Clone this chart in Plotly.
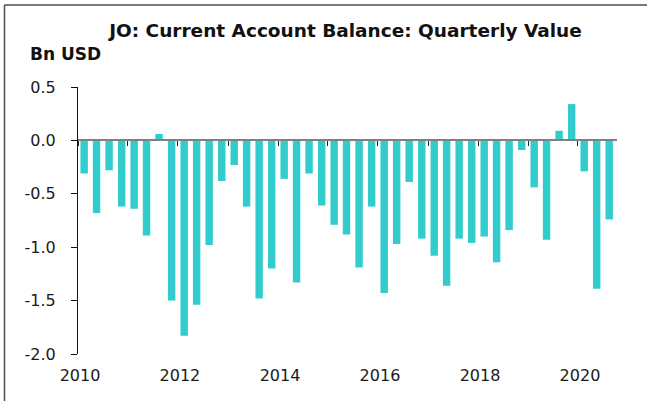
import plotly.graph_objects as go

quarters = [
    "2010-01-01", "2010-04-01", "2010-07-01", "2010-10-01",
    "2011-01-01", "2011-04-01", "2011-07-01", "2011-10-01",
    "2012-01-01", "2012-04-01", "2012-07-01", "2012-10-01",
    "2013-01-01", "2013-04-01", "2013-07-01", "2013-10-01",
    "2014-01-01", "2014-04-01", "2014-07-01", "2014-10-01",
    "2015-01-01", "2015-04-01", "2015-07-01", "2015-10-01",
    "2016-01-01", "2016-04-01", "2016-07-01", "2016-10-01",
    "2017-01-01", "2017-04-01", "2017-07-01", "2017-10-01",
    "2018-01-01", "2018-04-01", "2018-07-01", "2018-10-01",
    "2019-01-01", "2019-04-01", "2019-07-01", "2019-10-01",
    "2020-01-01", "2020-04-01", "2020-07-01",
]
current_account_bn_usd = [
    -0.31, -0.68, -0.28, -0.62, -0.64, -0.89, 0.06, -1.50, -1.83, -1.54,
    -0.98, -0.38, -0.23, -0.62, -1.48, -1.20, -0.36, -1.33, -0.31, -0.61,
    -0.79, -0.88, -1.19, -0.62, -1.43, -0.97, -0.39, -0.92, -1.08, -1.36,
    -0.92, -0.96, -0.90, -1.14, -0.84, -0.09, -0.44, -0.93, 0.09, 0.34,
    -0.29, -1.39, -0.74,
]
y_tickvals = [-2.0, -1.5, -1.0, -0.5, 0.0, 0.5]
y_ticktext = ["-2.0", "-1.5", "-1.0", "-0.5", "0.0", "0.5"]
x_range = ["2010-01-01", "2020-10-12"]
y_range = [-2.0, 0.5]

W, H = 647, 401
ML, MR, MT, MB = 78, 30, 87, 47
PW, PH = W - ML - MR, H - MT - MB

def px_x(px):
    return (px - ML) / PW

def px_y(py):
    return (H - MB - py) / PH

FONT = "DejaVu Sans"
TXT = "#1a1a1a"

fig = go.Figure()
fig.add_trace(go.Bar(
    x=quarters, y=current_account_bn_usd,
    xperiod="M3", xperiodalignment="middle",
    marker=dict(color="#33CCCC", line=dict(width=0)),
    showlegend=False, hoverinfo="x+y",
))
# carrier trace for the bottom label axis
fig.add_trace(go.Scatter(
    x=[quarters[0]], y=[None], xaxis="x2", yaxis="y",
    mode="markers", showlegend=False, hoverinfo="skip",
))

zero_pos = (0 - y_range[0]) / (y_range[1] - y_range[0])

fig.update_layout(
    width=W, height=H,
    margin=dict(l=ML, r=MR, t=MT, b=MB, pad=0),
    paper_bgcolor="white", plot_bgcolor="white",
    bargap=0.4,
    font=dict(family=FONT, size=16, color=TXT),
    title=dict(
        text="<b>JO: Current Account Balance: Quarterly Value</b>",
        x=345.5 / W, xref="container", xanchor="center",
        y=1 - 31 / H, yref="container", yanchor="middle",
        font=dict(family=FONT, size=18.5, color="#111111"),
    ),
    xaxis=dict(
        type="date", range=x_range,
        anchor="free", position=zero_pos,
        showline=True, linecolor="#808080", linewidth=2,
        ticks="outside", ticklen=5, tickwidth=1, tickcolor="#222222",
        tick0="2010-01-01", dtick="M12",
        showticklabels=False, showgrid=False, zeroline=False,
        layer="above traces",
    ),
    xaxis2=dict(
        type="date", overlaying="x", matches="x", anchor="y", side="bottom",
        range=x_range,
        showline=False, ticks="", tick0="2010-01-01", dtick="M24",
        tickformat="%Y", showgrid=False, zeroline=False,
        tickfont=dict(family=FONT, size=16, color=TXT),
        ticklabelstandoff=10, ticklabelshift=2,
    ),
    yaxis=dict(
        range=y_range, tickvals=y_tickvals, ticktext=y_ticktext,
        showline=True, linecolor="#111111", linewidth=1,
        ticks="outside", ticklen=6, tickwidth=1, tickcolor="#111111",
        showgrid=False, zeroline=False,
        tickfont=dict(family=FONT, size=16, color=TXT),
        ticklabelstandoff=12,
    ),
    annotations=[dict(
        text="<b>Bn USD</b>", xref="paper", yref="paper",
        x=px_x(28.3), y=px_y(54), xanchor="left", yanchor="middle",
        showarrow=False, font=dict(family=FONT, size=17, color="#111111"),
    )],
    shapes=[
        dict(type="line", xref="paper", yref="paper",
             x0=px_x(4.5), x1=px_x(4.5), y0=px_y(5), y1=px_y(H + 2),
             line=dict(color="#4d4d4d", width=1.5)),
        dict(type="line", xref="paper", yref="paper",
             x0=px_x(4.5), x1=px_x(W + 2), y0=px_y(5), y1=px_y(5),
             line=dict(color="#4d4d4d", width=1.5)),
    ],
)

fig.write_html(
    "out.html",
    config={"displayModeBar": False},
    post_script="document.body.style.margin='0';document.body.style.overflow='hidden';",
)
